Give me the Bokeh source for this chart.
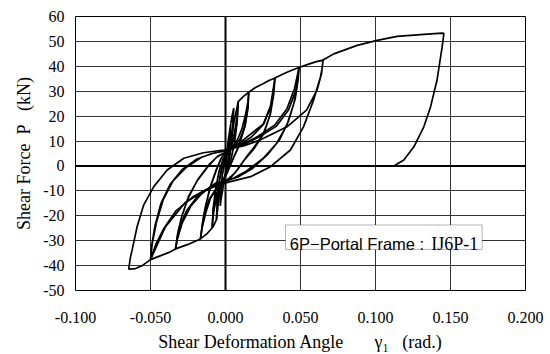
from bokeh.plotting import figure
from bokeh.models import FixedTicker, NumeralTickFormatter, Span, Label, BoxAnnotation, Range1d
from bokeh.embed import file_html
from bokeh.resources import INLINE

# ---------------- data (shear deformation angle [rad], shear force [kN]) ----------------
x_ticks = [-0.1, -0.05, 0.0, 0.05, 0.1, 0.15, 0.2]
y_ticks = [-50, -40, -30, -20, -10, 0, 10, 20, 30, 40, 50, 60]

lvl1_x = [0.0, 0.001, 0.002, 0.003, 0.0035, 0.0032, 0.0022, 0.001, 0.0, -0.001, -0.002, -0.003, -0.0035,
          -0.0032, -0.0022, -0.001, 0.0, 0.001, 0.002, 0.003, 0.0035]
lvl1_y = [0.0, 6, 11, 15, 17, 12, 5, 0, -3, -6, -10, -13.5, -16, -11, -4, 0, 3, 6, 10, 14, 17]

lvl2_x = [0.0035, 0.0045, 0.0055, 0.005, 0.0038, 0.002, 0.0, -0.002, -0.0035, -0.0048, -0.006, -0.0053,
          -0.004, -0.002, 0.0, 0.002, 0.0035, 0.0047, 0.0055, 0.005, 0.0036, 0.0018, 0.0, -0.002, -0.0038,
          -0.005, -0.006, -0.0054, -0.0042, -0.0022, 0.0]
lvl2_y = [17, 20.5, 23.2, 16, 8, 1, -3.5, -6.5, -10, -15, -21.5, -14, -6, 0, 3.5, 6, 10, 15.5, 23.2, 15.5,
          7, 0, -4, -7, -11, -16, -21.5, -14, -6, 0.5, 4]

lvl3_x = [0.0, 0.002, 0.004, 0.0055, 0.007, 0.0085, 0.0078, 0.0062, 0.004, 0.0015, -0.001, -0.0035, -0.0055,
          -0.006, -0.0075, -0.0089, -0.0082, -0.0066, -0.0042, -0.0015, 0.001, 0.0035, 0.0055, 0.007, 0.008,
          0.0085, 0.0077, 0.006, 0.0035, 0.001, -0.002, -0.0045, -0.0065, -0.008, -0.0089, -0.0081, -0.0063,
          -0.004, -0.001, 0.0015]
lvl3_y = [4, 7, 12, 17, 21.5, 25.8, 18, 10, 3.5, -1.5, -5, -8.5, -14, -21.5, -23.5, -24.9, -17, -9, -2, 3,
          5, 8, 12, 17, 21, 25.8, 17.5, 9, 2.5, -2.5, -6, -9.5, -14, -19, -24.9, -16.5, -8.5, -1.5, 3, 5]

lvl4_x = [0.0015, 0.004, 0.006, 0.0075, 0.0085, 0.012, 0.0155,
          0.0148, 0.013, 0.0095, 0.005, 0.0015, -0.001,
          -0.004, -0.0065, -0.008, -0.0089, -0.0125, -0.0167,
          -0.0158, -0.0138, -0.0105, -0.0065, -0.003, 0.0,
          0.004, 0.008, 0.011, 0.0135, 0.015, 0.0155,
          0.0146, 0.0125, 0.009, 0.0045, 0.001, -0.002,
          -0.006, -0.01, -0.013, -0.0155, -0.0167,
          -0.0156, -0.0133, -0.0098, -0.006, -0.0025, 0.001]
lvl4_y = [5, 8, 12, 17, 25.8, 27.9, 29.6,
          24, 16, 9, 3, -2, -5.5,
          -8, -12, -17, -24.9, -27.3, -29.3,
          -25, -17.5, -9, -2, 3, 5.5,
          7, 10.5, 15, 21, 26, 29.6,
          23, 15, 8, 2, -3, -6,
          -9, -13, -18.5, -24.5, -29.3,
          -24, -16, -8, -1.5, 3.5, 5.5]

lvl5_x = [0.001, 0.005, 0.0095, 0.013, 0.015, 0.0155,
          0.02, 0.025, 0.029, 0.033,
          0.0322, 0.03, 0.0256, 0.019, 0.0144, 0.008, 0.003, -0.001,
          -0.006, -0.011, -0.0145, -0.0167,
          -0.025, -0.0333,
          -0.0322, -0.0295, -0.025, -0.019, -0.012, -0.006, 0.0,
          0.007, 0.0144, 0.0256, 0.031, 0.033,
          0.032, 0.0295, 0.025, 0.0185, 0.012, 0.006, 0.0,
          -0.0067, -0.0156, -0.0233, -0.0289, -0.0322, -0.0333,
          -0.032, -0.029, -0.0245, -0.018, -0.011, -0.005, 0.0]
lvl5_y = [5.5, 7.5, 10.5, 16, 23, 29.6,
          31.5, 33, 34.3, 35.3,
          29, 21, 13, 7.5, 4, -1.5, -5, -6.2,
          -9, -13.5, -20, -29.3,
          -31.5, -33.3,
          -28.5, -21, -13, -6, -0.5, 3.5, 5.5,
          8, 11.7, 17, 25, 35.3,
          28, 20, 12.5, 6.5, 2, -3, -6.2,
          -6.9, -10.9, -16.3, -22.9, -29.6, -33.3,
          -27.5, -20, -12, -5, 0.5, 4, 5.5]

lvl6_x = [0.0, 0.008, 0.017, 0.025, 0.03, 0.033,
          0.037, 0.041, 0.045, 0.049,
          0.0485, 0.0465, 0.042, 0.036, 0.028, 0.018, 0.008, 0.0,
          -0.01, -0.019, -0.026, -0.031, -0.0333,
          -0.038, -0.044, -0.05,
          -0.0492, -0.047, -0.043, -0.037, -0.029, -0.019, -0.009, 0.0,
          0.011, 0.022, 0.033, 0.041, 0.046, 0.049,
          0.048, 0.0455, 0.041, 0.034, 0.025, 0.014, 0.005, 0.0,
          -0.002, -0.014, -0.027, -0.04, -0.047, -0.05,
          -0.0488, -0.046, -0.0415, -0.035, -0.026, -0.016, -0.006, 0.0]
lvl6_y = [5.5, 8, 11.5, 16.5, 24, 35.3,
          36.5, 37.6, 38.6, 39.5,
          35, 27, 18, 10.5, 4.5, -1, -4.5, -6,
          -8.5, -12.5, -18, -25, -33.3,
          -34.8, -36.2, -37.6,
          -32, -24, -15, -7.5, -1.5, 2.8, 5, 6,
          8.5, 12, 16.5, 23, 31, 39.5,
          33, 25, 16.5, 9, 3, -2, -5, -6.2,
          -6.8, -10, -14.8, -24.4, -33.6, -37.6,
          -31, -22.5, -13.5, -6, -0.5, 3.5, 5.5, 6]

lvl7_x = [0.0, 0.01, 0.022, 0.034, 0.042, 0.047, 0.049,
          0.055, 0.06, 0.065,
          0.0645, 0.0633, 0.0587, 0.052, 0.0433, 0.03, 0.0167, 0.0033,
          -0.01, -0.022, -0.033, -0.041, -0.0465, -0.05,
          -0.056, -0.06, -0.0645,
          -0.0635, -0.0622, -0.0589, -0.0545, -0.0478, -0.0389, -0.0278, -0.0147, -0.0013,
          0.012, 0.023, 0.041, 0.054, 0.061, 0.064, 0.065]
lvl7_y = [6, 8, 11.5, 16, 22.5, 30.5, 39.5,
          40.8, 41.8, 42.5,
          39.5, 35.7, 26.4, 15.7, 6.4, -0.3, -4.3, -6.3,
          -8.5, -12.5, -18, -25, -31.5, -37.6,
          -40.2, -41.2, -41.4,
          -37, -33.6, -24.3, -15.6, -8.3, -1.6, 3.1, 5.3, 6.4,
          8, 10.4, 15.7, 22.4, 30.4, 37, 42.5]

final_x = [0.065, 0.0722, 0.0878, 0.1011, 0.1144, 0.1322, 0.1444, 0.1456, 0.1444, 0.141, 0.1367, 0.1322,
           0.1256, 0.1189, 0.1122]
final_y = [42.5, 45, 48.4, 50.4, 52, 52.8, 53.3, 53.2, 47.7, 34.4, 23.7, 15.7, 7.7, 2.4, 0]

series = [(lvl1_x, lvl1_y), (lvl2_x, lvl2_y), (lvl3_x, lvl3_y), (lvl4_x, lvl4_y),
          (lvl5_x, lvl5_y), (lvl6_x, lvl6_y), (lvl7_x, lvl7_y), (final_x, final_y)]

NB = "\u00a0"
x_title = "Shear Deformation Angle" + NB * 7 + "\u03b3\u2081" + NB * 3 + "(rad.)"
y_title = "Shear Force" + NB * 2 + "P" + NB * 3 + "(kN)"
box_text_1 = "6P\u2212Portal Frame :"
box_text_2 = "IJ6P-1"

# ---------------- figure ----------------
p = figure(width=550, height=354, output_backend="svg", toolbar_location=None,
           x_range=Range1d(-0.1, 0.2), y_range=Range1d(-50, 60),
           min_border_left=75, min_border_right=25, min_border_top=16, min_border_bottom=63)
p.background_fill_color = "white"
p.border_fill_color = "white"
p.outline_line_color = "black"
p.outline_line_width = 1

p.xaxis.ticker = FixedTicker(ticks=x_ticks)
p.yaxis.ticker = FixedTicker(ticks=y_ticks)
p.xgrid.ticker = FixedTicker(ticks=x_ticks)
p.ygrid.ticker = FixedTicker(ticks=y_ticks)
p.xaxis.formatter = NumeralTickFormatter(format="0.000")
p.yaxis.formatter = NumeralTickFormatter(format="0")
for ax in (p.xaxis, p.yaxis):
    ax.axis_line_color = None
    ax.major_tick_line_color = None
    ax.minor_tick_line_color = None
    ax.major_tick_out = 0
    ax.major_tick_in = 0
    ax.major_label_text_font = "Liberation Serif"
    ax.major_label_text_font_size = "16px"
    ax.major_label_text_color = "black"
    ax.axis_label_text_font = "Liberation Serif"
    ax.axis_label_text_font_style = "normal"
    ax.axis_label_text_color = "black"
    ax.axis_label_text_font_size = "18px"
p.xaxis.major_label_standoff = 21
p.yaxis.major_label_standoff = 11
p.xaxis.axis_label = x_title
p.yaxis.axis_label = y_title
p.xaxis.axis_label_standoff = 6
p.yaxis.axis_label_standoff = 6

for g in (p.xgrid, p.ygrid):
    g.grid_line_color = "#333333"
    g.grid_line_width = 1
    g.grid_line_alpha = 1

p.add_layout(Span(location=0, dimension="height", line_color="black", line_width=2))
p.add_layout(Span(location=0, dimension="width", line_color="black", line_width=2))

for xs, ys in series:
    p.line(xs, ys, line_color="black", line_width=1.7)

# annotation box
p.add_layout(BoxAnnotation(left=0.04, right=0.1711, top=-23.7, bottom=-33.5,
                           fill_color="white", fill_alpha=1, line_color="black", line_width=1))
p.add_layout(Label(x=0.0429, y=-31.2, text=box_text_1, text_font="Liberation Sans",
                   text_font_size="16.5px", text_color="black", text_align="left", text_baseline="alphabetic"))
p.add_layout(Label(x=0.1372, y=-31.2, text=box_text_2, text_font="Liberation Serif",
                   text_font_size="18px", text_color="black", text_align="left", text_baseline="alphabetic"))

open("out.html", "w").write(file_html(p, INLINE))
